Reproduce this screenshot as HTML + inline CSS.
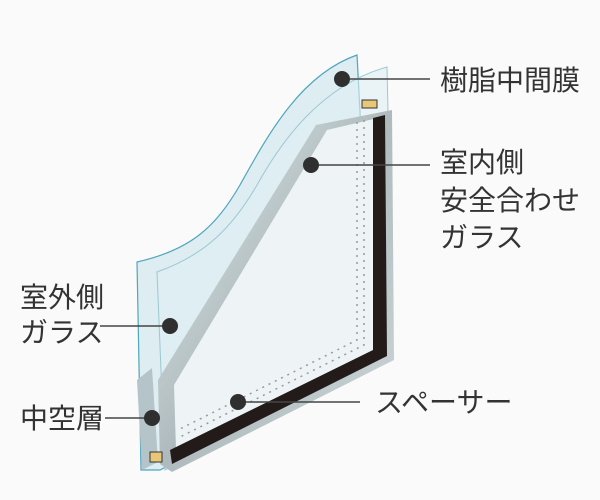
<!DOCTYPE html>
<html><head><meta charset="utf-8"><style>
body{margin:0;background:#fafafa;}
svg{display:block}
text{font-family:"Liberation Sans","Noto Sans CJK JP",sans-serif;font-size:28px;fill:#333}
</style></head><body>
<svg width="600" height="500" viewBox="0 0 600 500">
<defs>
<linearGradient id="fr" x1="0" y1="0" x2="1" y2="1">
<stop offset="0" stop-color="#e6eef0"/><stop offset="0.5" stop-color="#aebabd"/><stop offset="1" stop-color="#cfd9db"/></linearGradient>
</defs>
<rect width="600" height="500" fill="#fafafa"/>
<path d="M137,262 C190,250 215,228 240,185 C268,135 300,75 357,55 L360,112 L372,360 L160,470 L141,470 Z" fill="#d3e8ee" fill-opacity="0.75" stroke="#4fa6bd" stroke-width="1.2"/>
<path d="M157,272 C205,255 232,228 257,185 C282,140 322,85 387,67 L388,112 L385,360 L165,470 Z" fill="#e0eff3" fill-opacity="0.6" stroke="#9cc8d2" stroke-width="1"/>
<path d="M137,380 L152,368 L158,462 L142,470 Z" fill="#b4c4c8"/>
<path d="M158,380 L316,125 L392,110 L394,360 L172,472 L160,464 Z" fill="url(#fr)"/>
<path d="M174,385 L327,130 L378,118 L378,352 L176,450 Z" fill="#eef4f6"/>
<path d="M373,118 L385,115 L387,356 L172,464 L170,450 L373,350 Z" fill="#231a1a"/>
<path d="M357,122 L357,340 L178,430" fill="none" stroke="#999" stroke-width="1.5" stroke-dasharray="2,5"/>
<path d="M364,120 L364,345 L178,438" fill="none" stroke="#999" stroke-width="1.5" stroke-dasharray="2,5"/>
<rect x="362" y="100" width="15" height="8" fill="#e8c878" stroke="#333"/>
<rect x="150" y="452" width="12" height="10" fill="#e8c878" stroke="#333"/>
<g stroke="#444" stroke-width="1.5">
<line x1="342" y1="79" x2="430" y2="79"/>
<line x1="311" y1="165" x2="430" y2="165"/>
<line x1="100" y1="326" x2="170" y2="326"/>
<line x1="105" y1="418" x2="152" y2="418"/>
<line x1="238" y1="402" x2="360" y2="402"/>
</g>
<g fill="#2f2f2f">
<circle cx="342" cy="79" r="8"/><circle cx="311" cy="165" r="8"/>
<circle cx="170" cy="326" r="8"/><circle cx="152" cy="418" r="8"/>
<circle cx="238" cy="402" r="8"/>
</g>
<text x="440" y="90">樹脂中間膜</text>
<text x="440" y="172">室内側</text>
<text x="440" y="210">安全合わせ</text>
<text x="440" y="247">ガラス</text>
<text x="20" y="307">室外側</text>
<text x="20" y="342">ガラス</text>
<text x="20" y="428">中空層</text>
<text x="375" y="412">スペーサー</text>
</svg>
</body></html>
